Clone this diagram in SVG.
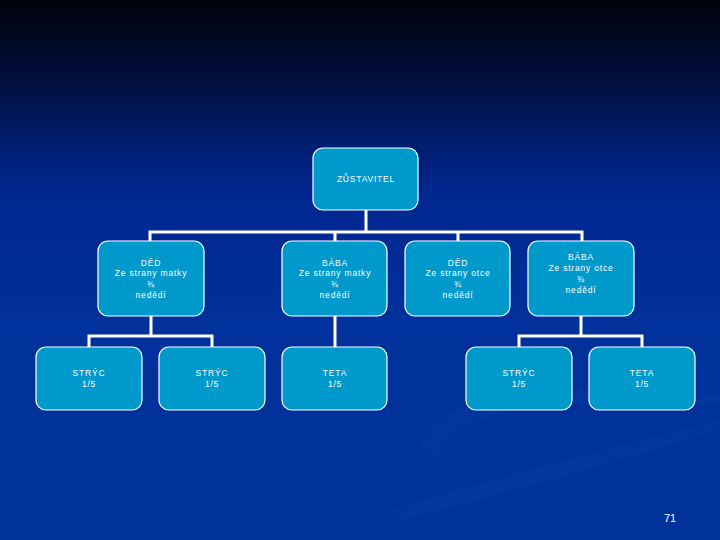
<svg xmlns="http://www.w3.org/2000/svg" width="720" height="540" viewBox="0 0 720 540">
<defs>
<linearGradient id="bg" x1="0" y1="0" x2="0" y2="1">
<stop offset="0" stop-color="#00020a"/>
<stop offset="0.12" stop-color="#000c33"/>
<stop offset="0.35" stop-color="#00268f"/>
<stop offset="0.6" stop-color="#00319c"/>
<stop offset="1" stop-color="#00339a"/>
</linearGradient>
<style>
.box{fill:#0099cc;stroke:#ffffff;stroke-width:1.2}
.t{fill:#ffffff;font-family:"Liberation Sans",Arial,sans-serif;font-size:8.5px;letter-spacing:0.8px;text-anchor:middle}
.c{fill:none;stroke:#ffffff;stroke-width:3}
</style>
</defs>
<rect width="720" height="540" fill="url(#bg)"/>
<path d="M420 450 C 430 390, 560 380, 720 395 L 720 405 C 570 395, 450 405, 440 460 Z" fill="#0a3ea8" opacity="0.3"/>
<path d="M390 510 C 520 470, 640 440, 720 420 L 720 430 C 640 455, 520 490, 400 520 Z" fill="#0a3ea8" opacity="0.25"/>
<g id="connectors">
<path class="c" d="M366 210 V232 M150 242 V232 H582 V242 M335 232 V242 M458 232 V242"/>
<path class="c" d="M151 316 V336 M89 347 V336 H212 V347"/>
<path class="c" d="M335 316 V347"/>
<path class="c" d="M581 316 V336 M519 347 V336 H642 V347"/>
</g>
<g id="zustavitel"><rect class="box" x="313" y="148" width="105" height="62" rx="10"/><text class="t" x="366" y="182">ZŮSTAVITEL</text></g>
<g id="ded-matky"><rect class="box" x="98" y="241" width="106" height="75" rx="10"/><text class="t" x="151" y="266">DĚD</text><text class="t" x="151" y="276">Ze strany matky</text><text class="t" x="151" y="287">¾</text><text class="t" x="151" y="298">nedědí</text></g>
<g id="baba-matky"><rect class="box" x="282" y="241" width="105" height="75" rx="10"/><text class="t" x="335" y="266">BÁBA</text><text class="t" x="335" y="276">Ze strany matky</text><text class="t" x="335" y="287">¾</text><text class="t" x="335" y="298">nedědí</text></g>
<g id="ded-otce"><rect class="box" x="405" y="241" width="105" height="75" rx="10"/><text class="t" x="458" y="266">DĚD</text><text class="t" x="458" y="276">Ze strany otce</text><text class="t" x="458" y="287">¾</text><text class="t" x="458" y="298">nedědí</text></g>
<g id="baba-otce"><rect class="box" x="528" y="241" width="106" height="75" rx="10"/><text class="t" x="581" y="260">BÁBA</text><text class="t" x="581" y="271">Ze strany otce</text><text class="t" x="581" y="282">¾</text><text class="t" x="581" y="293">nedědí</text></g>
<g id="stryc1"><rect class="box" x="36" y="347" width="106" height="63" rx="10"/><text class="t" x="89" y="376">STRÝC</text><text class="t" x="89" y="387">1/5</text></g>
<g id="stryc2"><rect class="box" x="159" y="347" width="106" height="63" rx="10"/><text class="t" x="212" y="376">STRÝC</text><text class="t" x="212" y="387">1/5</text></g>
<g id="teta1"><rect class="box" x="282" y="347" width="105" height="63" rx="10"/><text class="t" x="335" y="376">TETA</text><text class="t" x="335" y="387">1/5</text></g>
<g id="stryc3"><rect class="box" x="466" y="347" width="106" height="63" rx="10"/><text class="t" x="519" y="376">STRÝC</text><text class="t" x="519" y="387">1/5</text></g>
<g id="teta2"><rect class="box" x="589" y="347" width="106" height="63" rx="10"/><text class="t" x="642" y="376">TETA</text><text class="t" x="642" y="387">1/5</text></g>
<text x="670" y="522" fill="#ffffff" font-family="Liberation Sans,Arial,sans-serif" font-size="11" text-anchor="middle">71</text>
</svg>
